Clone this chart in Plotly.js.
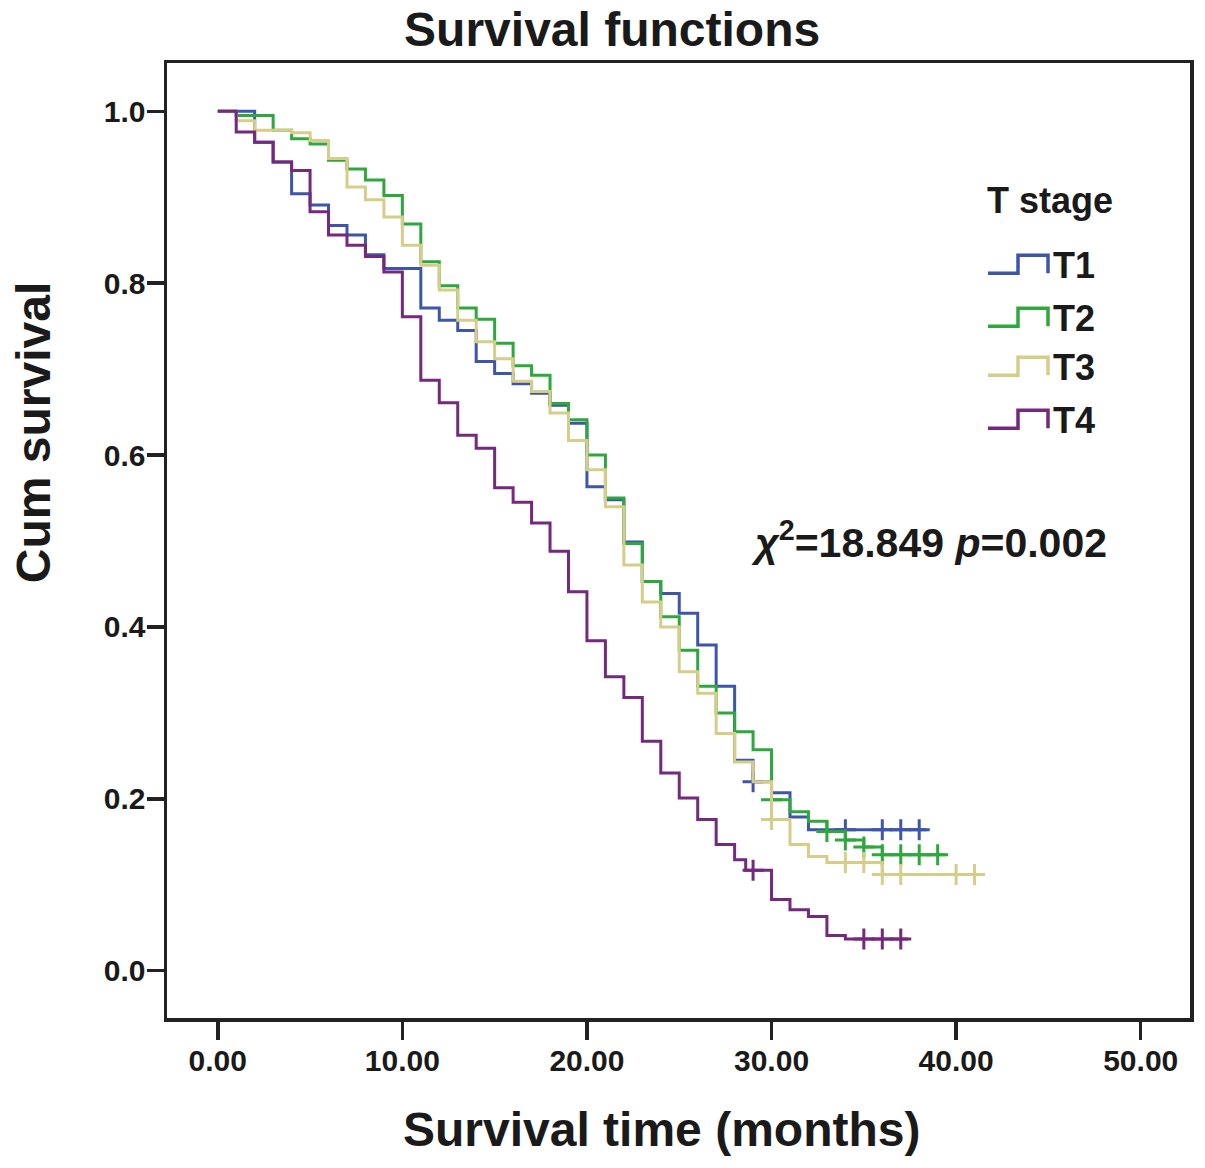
<!DOCTYPE html>
<html>
<head>
<meta charset="utf-8">
<script src="https://cdn.plot.ly/plotly-3.0.1.min.js"></script>
<style>
  html, body { margin: 0; padding: 0; background: #fff; }
  #chart { width: 1205px; height: 1168px; }
</style>
</head>
<body>
<div id="chart"></div>
<script>
// Kaplan-Meier steps (months, cumulative survival)
var t1_time = [0, 2, 3, 4, 5, 6, 7, 8, 9, 11, 12, 13, 14, 15, 16, 17, 18, 19, 20, 21, 22, 23, 24, 25, 26, 27, 28, 29, 30, 31, 32, 38.4];
var t1_surv = [1.0, 0.964, 0.941, 0.904, 0.891, 0.867, 0.856, 0.833, 0.817, 0.771, 0.757, 0.745, 0.709, 0.695, 0.683, 0.672, 0.658, 0.637, 0.563, 0.548, 0.499, 0.453, 0.439, 0.416, 0.379, 0.331, 0.245, 0.220, 0.207, 0.179, 0.164, 0.164];
var t1_cens_time = [29, 34, 36, 37, 38];
var t1_cens_surv = [0.220, 0.164, 0.164, 0.164, 0.164];

var t2_time = [0, 1, 3, 4, 5, 6, 7, 8, 9, 10, 11, 12, 13, 14, 15, 16, 17, 18, 19, 20, 21, 22, 23, 24, 25, 26, 27, 28, 29, 30, 31, 32, 33, 34, 35, 36, 39.4];
var t2_surv = [1.0, 0.995, 0.978, 0.968, 0.962, 0.943, 0.933, 0.920, 0.902, 0.869, 0.825, 0.797, 0.771, 0.758, 0.730, 0.704, 0.693, 0.660, 0.641, 0.600, 0.550, 0.497, 0.453, 0.412, 0.373, 0.331, 0.300, 0.278, 0.257, 0.199, 0.185, 0.174, 0.162, 0.152, 0.144, 0.135, 0.135];
var t2_cens_time = [30, 33, 34, 35, 36, 37, 38, 39];
var t2_cens_surv = [0.199, 0.162, 0.152, 0.144, 0.135, 0.135, 0.135, 0.135];

var t3_time = [0, 1, 2, 4, 5, 6, 7, 8, 9, 10, 11, 12, 13, 14, 15, 16, 17, 18, 19, 20, 21, 22, 23, 24, 25, 26, 27, 28, 29, 30, 31, 32, 33, 36, 41.5];
var t3_surv = [1.0, 0.989, 0.978, 0.975, 0.966, 0.945, 0.912, 0.897, 0.877, 0.844, 0.821, 0.792, 0.757, 0.732, 0.712, 0.686, 0.674, 0.649, 0.617, 0.583, 0.540, 0.472, 0.429, 0.400, 0.348, 0.323, 0.276, 0.243, 0.220, 0.176, 0.147, 0.133, 0.126, 0.112, 0.112];
var t3_cens_time = [30, 34, 35, 36, 37, 40, 41];
var t3_cens_surv = [0.176, 0.126, 0.126, 0.112, 0.112, 0.112, 0.112];

var t4_time = [0, 1, 2, 3, 4, 5, 6, 7, 8, 9, 10, 11, 12, 13, 14, 15, 16, 17, 18, 19, 20, 21, 22, 23, 24, 25, 26, 27, 28, 28.6, 30, 31, 32, 33, 34, 37.4];
var t4_surv = [1.0, 0.976, 0.964, 0.941, 0.931, 0.883, 0.856, 0.844, 0.831, 0.813, 0.761, 0.687, 0.661, 0.623, 0.608, 0.562, 0.545, 0.521, 0.488, 0.441, 0.384, 0.342, 0.318, 0.267, 0.230, 0.201, 0.176, 0.147, 0.129, 0.117, 0.083, 0.071, 0.063, 0.041, 0.037, 0.037];
var t4_cens_time = [29, 35, 36, 37];
var t4_cens_surv = [0.117, 0.037, 0.037, 0.037];

var group_names = ['T1', 'T2', 'T3', 'T4'];
var group_colors = ['#3d55aa', '#2ea83c', '#d6cd88', '#74297d'];
var x_ticks = [0, 10, 20, 30, 40, 50];
var y_ticks = [0, 0.2, 0.4, 0.6, 0.8, 1.0];

var curves = [
    [t1_time, t1_surv, t1_cens_time, t1_cens_surv],
    [t2_time, t2_surv, t2_cens_time, t2_cens_surv],
    [t3_time, t3_surv, t3_cens_time, t3_cens_surv],
    [t4_time, t4_surv, t4_cens_time, t4_cens_surv]
];

var data = [];
for (var i = 0; i < curves.length; i++) {
    data.push({
        x: curves[i][0],
        y: curves[i][1],
        name: group_names[i],
        type: 'scatter',
        mode: 'lines',
        line: {color: group_colors[i], width: 3, shape: 'hv'},
        showlegend: false
    });
    data.push({
        x: curves[i][2],
        y: curves[i][3],
        name: group_names[i] + ' censored',
        type: 'scatter',
        mode: 'markers',
        marker: {symbol: 'cross-thin', size: 15, line: {color: group_colors[i], width: 3}},
        showlegend: false
    });
}

// step-shaped legend glyphs + labels (pixel positions turned into paper coords)
function px(x) { return (x - 167) / 1023; }
function py(y) { return (1018 - y) / 955.3; }

var txt = '#1a1a1a';
var legend_y = [265, 318, 367, 420];
var shapes = [], annotations = [];
for (var k = 0; k < 4; k++) {
    var yb = py(legend_y[k] + 8), yt = py(legend_y[k] - 10);
    shapes.push({
        type: 'path', xref: 'paper', yref: 'paper',
        path: 'M ' + px(988) + ',' + yb + ' L ' + px(1018) + ',' + yb + ' L ' + px(1018) + ',' + yt +
              ' L ' + px(1048) + ',' + yt + ' L ' + px(1048) + ',' + yb,
        line: {color: group_colors[k], width: 3.5}
    });
    annotations.push({
        xref: 'paper', yref: 'paper', x: px(1051), y: py(legend_y[k]),
        xanchor: 'left', yanchor: 'middle', showarrow: false,
        text: '<b>' + group_names[k] + '</b>',
        font: {family: 'Liberation Sans, Arial', size: 36, color: txt}
    });
}
annotations.push({
    xref: 'paper', yref: 'paper', x: px(985), y: py(200),
    xanchor: 'left', yanchor: 'middle', showarrow: false,
    text: '<b>T stage</b>',
    font: {family: 'Liberation Sans, Arial', size: 36, color: txt}
});
annotations.push({
    xref: 'paper', yref: 'paper', x: px(749), y: py(540),
    xanchor: 'left', yanchor: 'middle', showarrow: false,
    text: '<b><i>χ</i><sup>2</sup>=18.849 <i>p</i>=0.002</b>',
    font: {family: 'Liberation Sans, Arial', size: 41, color: txt}
});
// axis titles as annotations so they sit where the reference has them
annotations.push({
    xref: 'paper', yref: 'paper', x: px(661), y: py(1130),
    xanchor: 'center', yanchor: 'middle', showarrow: false,
    text: '<b>Survival time (months)</b>',
    font: {family: 'Liberation Sans, Arial', size: 48, color: txt}
});
annotations.push({
    xref: 'paper', yref: 'paper', x: px(33), y: py(433),
    xanchor: 'center', yanchor: 'middle', showarrow: false, textangle: -90,
    text: '<b>Cum survival</b>',
    font: {family: 'Liberation Sans, Arial', size: 48, color: txt}
});

var tick_font = {family: 'Liberation Sans Narrow, Liberation Sans, Arial', size: 30, color: txt, weight: 'bold'};

var layout = {
    width: 1205,
    height: 1168,
    margin: {l: 167, r: 15, t: 63, b: 150, pad: 0},
    paper_bgcolor: '#ffffff',
    plot_bgcolor: '#ffffff',
    title: {
        text: '<b>Survival functions</b>',
        x: 0.508, xanchor: 'center', y: 0.975, yanchor: 'middle',
        font: {family: 'Liberation Sans, Arial', size: 48, color: txt}
    },
    xaxis: {
        range: [-2.75, 52.67],
        tickvals: x_ticks,
        tickformat: '.2f',
        ticks: 'outside', ticklen: 18, tickwidth: 3.5, tickcolor: '#222',
        ticklabelstandoff: -5,
        showgrid: false, zeroline: false,
        showline: true, mirror: true, linewidth: 3.5, linecolor: '#222',
        tickfont: tick_font
    },
    yaxis: {
        range: [-0.055, 1.0562],
        tickvals: y_ticks,
        tickformat: '.1f',
        ticks: 'outside', ticklen: 17, tickwidth: 3.5, tickcolor: '#222',
        ticklabelstandoff: -5,
        showgrid: false, zeroline: false,
        showline: true, mirror: true, linewidth: 3.5, linecolor: '#222',
        tickfont: tick_font
    },
    shapes: shapes,
    annotations: annotations,
    showlegend: false
};

Plotly.newPlot('chart', data, layout, {displayModeBar: false, staticPlot: true});
</script>
</body>
</html>
